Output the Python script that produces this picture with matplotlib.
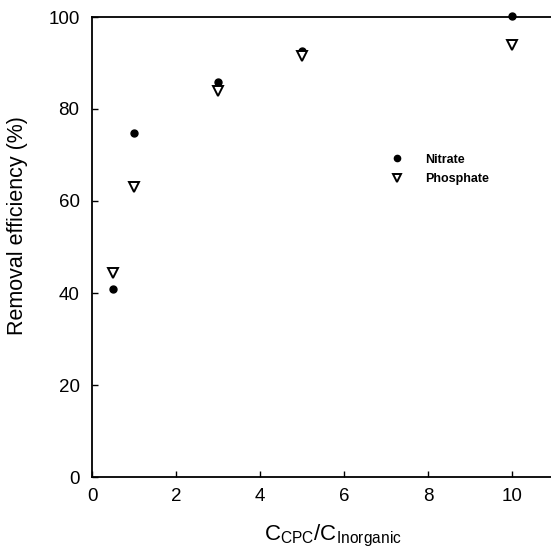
import matplotlib
matplotlib.use("Agg")
import matplotlib.pyplot as plt

plt.rcParams["font.family"] = ["Liberation Sans", "DejaVu Sans"]

# ---- data -------------------------------------------------------------------
ratio = [0.5, 1, 3, 5, 10]
nitrate = [40.9, 74.7, 85.8, 92.5, 100.2]
phosphate = [44.4, 63.0, 84.0, 91.6, 94.0]

fig = plt.figure(figsize=(5.51, 5.56), dpi=100)
ax = fig.add_axes([92 / 551, 79 / 556, 459 / 551, 460 / 556])

ax.plot(ratio, nitrate, "o", color="black", ms=5, label="Nitrate", clip_on=False)
ax.plot(ratio, phosphate, "v", mfc="white", mec="black", mew=1.4, ms=6.5,
        label="Phosphate", clip_on=False)

ax.set_xlim(0, 10.93)
ax.set_ylim(0, 100)
ax.set_xticks([0, 2, 4, 6, 8, 10])
ax.set_yticks([0, 20, 40, 60, 80, 100])
ax.tick_params(direction="in", length=4, width=1, labelsize=13.5)
ax.tick_params(axis="y", pad=9)
ax.tick_params(axis="x", pad=8)
ax.spines["right"].set_visible(False)
for s in ("left", "bottom", "top"):
    ax.spines[s].set_linewidth(1.3)

ax.set_xlabel(r"$\mathregular{C_{CPC}/C_{Inorganic}}$", fontsize=16)
ax.xaxis.set_label_coords(0.525, -0.1)
ax.set_ylabel("Removal efficiency (%)", fontsize=15.5)
ax.yaxis.set_label_coords(-0.139, 0.546)

ax.legend(loc="upper left", bbox_to_anchor=(0.626, 0.714), frameon=False,
          prop={"size": 9, "weight": "bold"}, handletextpad=1.24,
          labelspacing=0.6, markerscale=0.9, borderaxespad=0)

fig.savefig("out.png", dpi=100)
